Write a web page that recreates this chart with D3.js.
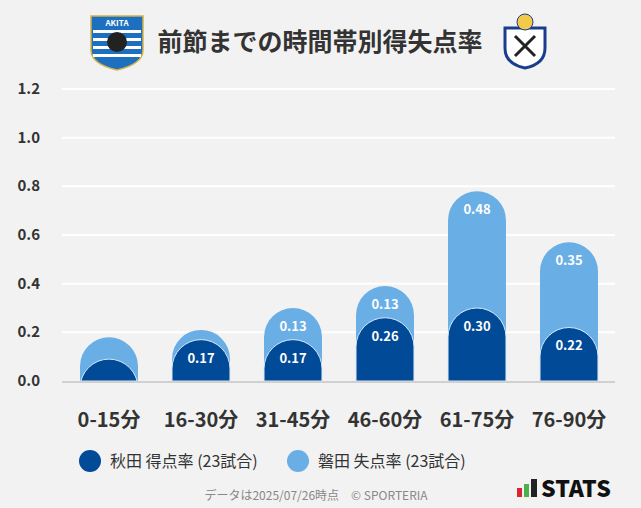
<!DOCTYPE html>
<html lang="ja">
<head>
<meta charset="UTF-8">
<script src="https://d3js.org/d3.v7.min.js"></script>
<style>
  body { margin: 0; background: #f2f2f2; }
  text { font-family: "Noto Sans CJK JP", "Noto Sans", sans-serif; }
</style>
</head>
<body>
<script>
// 時間帯ごとの得点率 / 失点率
const categories = ['0-15分', '16-30分', '31-45分', '46-60分', '61-75分', '76-90分'];
const akitaScored = [0.09, 0.17, 0.17, 0.26, 0.30, 0.22];
const iwataConceded = [0.09, 0.04, 0.13, 0.13, 0.48, 0.35];
const yTicks = [0, 0.2, 0.4, 0.6, 0.8, 1.0, 1.2];
const seriesNames = ['秋田 得点率 (23試合)', '磐田 失点率 (23試合)'];
const colors = ['#004a97', '#6aaee6'];

const width = 641, height = 508;
const svg = d3.select('body').append('svg')
    .attr('width', width).attr('height', height)
    .style('background', '#f2f2f2');

const x = d3.scaleBand().domain(categories).range([63, 615]).paddingInner(0.37).paddingOuter(0.185);
const y = d3.scaleLinear().domain([0, 1.2]).range([381, 89]);

// grid
svg.append('g').selectAll('line').data(yTicks.slice(1)).join('line')
    .attr('x1', 62).attr('x2', 615)
    .attr('y1', d => y(d)).attr('y2', d => y(d))
    .attr('stroke', '#fff').attr('stroke-width', 2);
svg.append('line').attr('x1', 62).attr('x2', 615).attr('y1', 382).attr('y2', 382)
    .attr('stroke', '#d0d0d0').attr('stroke-width', 2);

svg.append('g').selectAll('text').data(yTicks).join('text')
    .attr('x', 40).attr('y', d => y(d) + 5)
    .attr('text-anchor', 'end').attr('font-size', 15).attr('font-weight', 700)
    .attr('fill', '#333').text(d => d.toFixed(1));

svg.append('g').selectAll('text').data(categories).join('text')
    .attr('x', d => x(d) + x.bandwidth() / 2).attr('y', 427)
    .attr('text-anchor', 'middle').attr('font-size', 20).attr('font-weight', 700)
    .attr('fill', '#333').text(d => d);

// dome shaped bar: flat bottom, semicircle top whose peak is at `top`
function dome(x0, w, top, base) {
  const r = w / 2;
  return `M${x0},${base}L${x0},${top + r}A${r},${r} 0 0 1 ${x0 + w},${top + r}L${x0 + w},${base}Z`;
}
svg.append('clipPath').attr('id', 'clip').append('rect')
    .attr('x', 0).attr('y', 0).attr('width', width).attr('height', y(0));

const bars = svg.append('g').attr('clip-path', 'url(#clip)');
categories.forEach((c, i) => {
  const x0 = x(c), w = x.bandwidth();
  const total = akitaScored[i] + iwataConceded[i];
  bars.append('path').attr('d', dome(x0, w, y(total), y(0))).attr('fill', colors[1]);
  bars.append('path').attr('d', dome(x0, w, y(akitaScored[i]), y(0)))
      .attr('fill', colors[0]).attr('stroke', '#d8e8f7').attr('stroke-width', 1);
});

const labels = svg.append('g').attr('font-size', 13).attr('font-weight', 700)
    .attr('fill', '#fff').attr('text-anchor', 'middle');
categories.forEach((c, i) => {
  const cx = x(c) + x.bandwidth() / 2;
  if (akitaScored[i] >= 0.1)
    labels.append('text').attr('x', cx).attr('y', y(akitaScored[i]) + 23).text(akitaScored[i].toFixed(2));
  if (iwataConceded[i] >= 0.1)
    labels.append('text').attr('x', cx).attr('y', y(akitaScored[i] + iwataConceded[i]) + 23).text(iwataConceded[i].toFixed(2));
});

// title
svg.append('text').attr('x', 320).attr('y', 51).attr('text-anchor', 'middle')
    .attr('font-size', 25).attr('font-weight', 700).attr('fill', '#333')
    .text('前節までの時間帯別得失点率');

// crest placeholders
const akita = svg.append('g').attr('transform', 'translate(117,42)');
akita.append('path').attr('d', 'M-26,-26L26,-26L26,8Q26,22 0,28Q-26,22 -26,8Z')
    .attr('fill', '#1d6fc0').attr('stroke', '#d4b24a').attr('stroke-width', 1.5);
[-12, -4, 4, 12].forEach(dy => akita.append('rect').attr('x', -24).attr('y', dy).attr('width', 48).attr('height', 3).attr('fill', '#fff'));
akita.append('circle').attr('r', 10).attr('fill', '#222');
akita.append('text').attr('y', -16).attr('text-anchor', 'middle').attr('font-size', 8)
    .attr('font-weight', 700).attr('fill', '#fff').text('AKITA');
const iwata = svg.append('g').attr('transform', 'translate(525,42)');
iwata.append('path').attr('d', 'M-20,-14L20,-14L20,6Q20,22 0,26Q-20,22 -20,6Z')
    .attr('fill', '#fff').attr('stroke', '#1a3d8f').attr('stroke-width', 3);
iwata.append('circle').attr('cy', -20).attr('r', 8).attr('fill', '#f3c94a').attr('stroke', '#1a3d8f');
iwata.append('path').attr('d', 'M-10,-6L10,14M10,-6L-10,14').attr('stroke', '#222').attr('stroke-width', 3);

// legend
const lg = svg.append('g');
[[90, 0], [298, 1]].forEach(([lx, k]) => {
  lg.append('circle').attr('cx', lx).attr('cy', 461).attr('r', 11).attr('fill', colors[k]);
  lg.append('text').attr('x', lx + 20).attr('y', 467).attr('font-size', 16)
      .attr('fill', '#333').text(seriesNames[k]);
});

svg.append('text').attr('x', 316).attr('y', 500).attr('text-anchor', 'middle')
    .attr('font-size', 12).attr('fill', '#888').text('データは2025/07/26時点　© SPORTERIA');

// STATS mark
const st = svg.append('g').attr('transform', 'translate(517,482)');
st.append('rect').attr('x', 0).attr('y', 6).attr('width', 5).attr('height', 9).attr('fill', '#d8262e');
st.append('rect').attr('x', 7).attr('y', 2).attr('width', 5).attr('height', 13).attr('fill', '#4caf50');
st.append('rect').attr('x', 14).attr('y', -3).attr('width', 6).attr('height', 18).attr('fill', '#222');
st.append('text').attr('x', 24).attr('y', 15).attr('font-size', 23).attr('font-weight', 900)
    .attr('fill', '#111').attr('font-family', 'Roboto').text('STATS');
</script>
</body>
</html>
